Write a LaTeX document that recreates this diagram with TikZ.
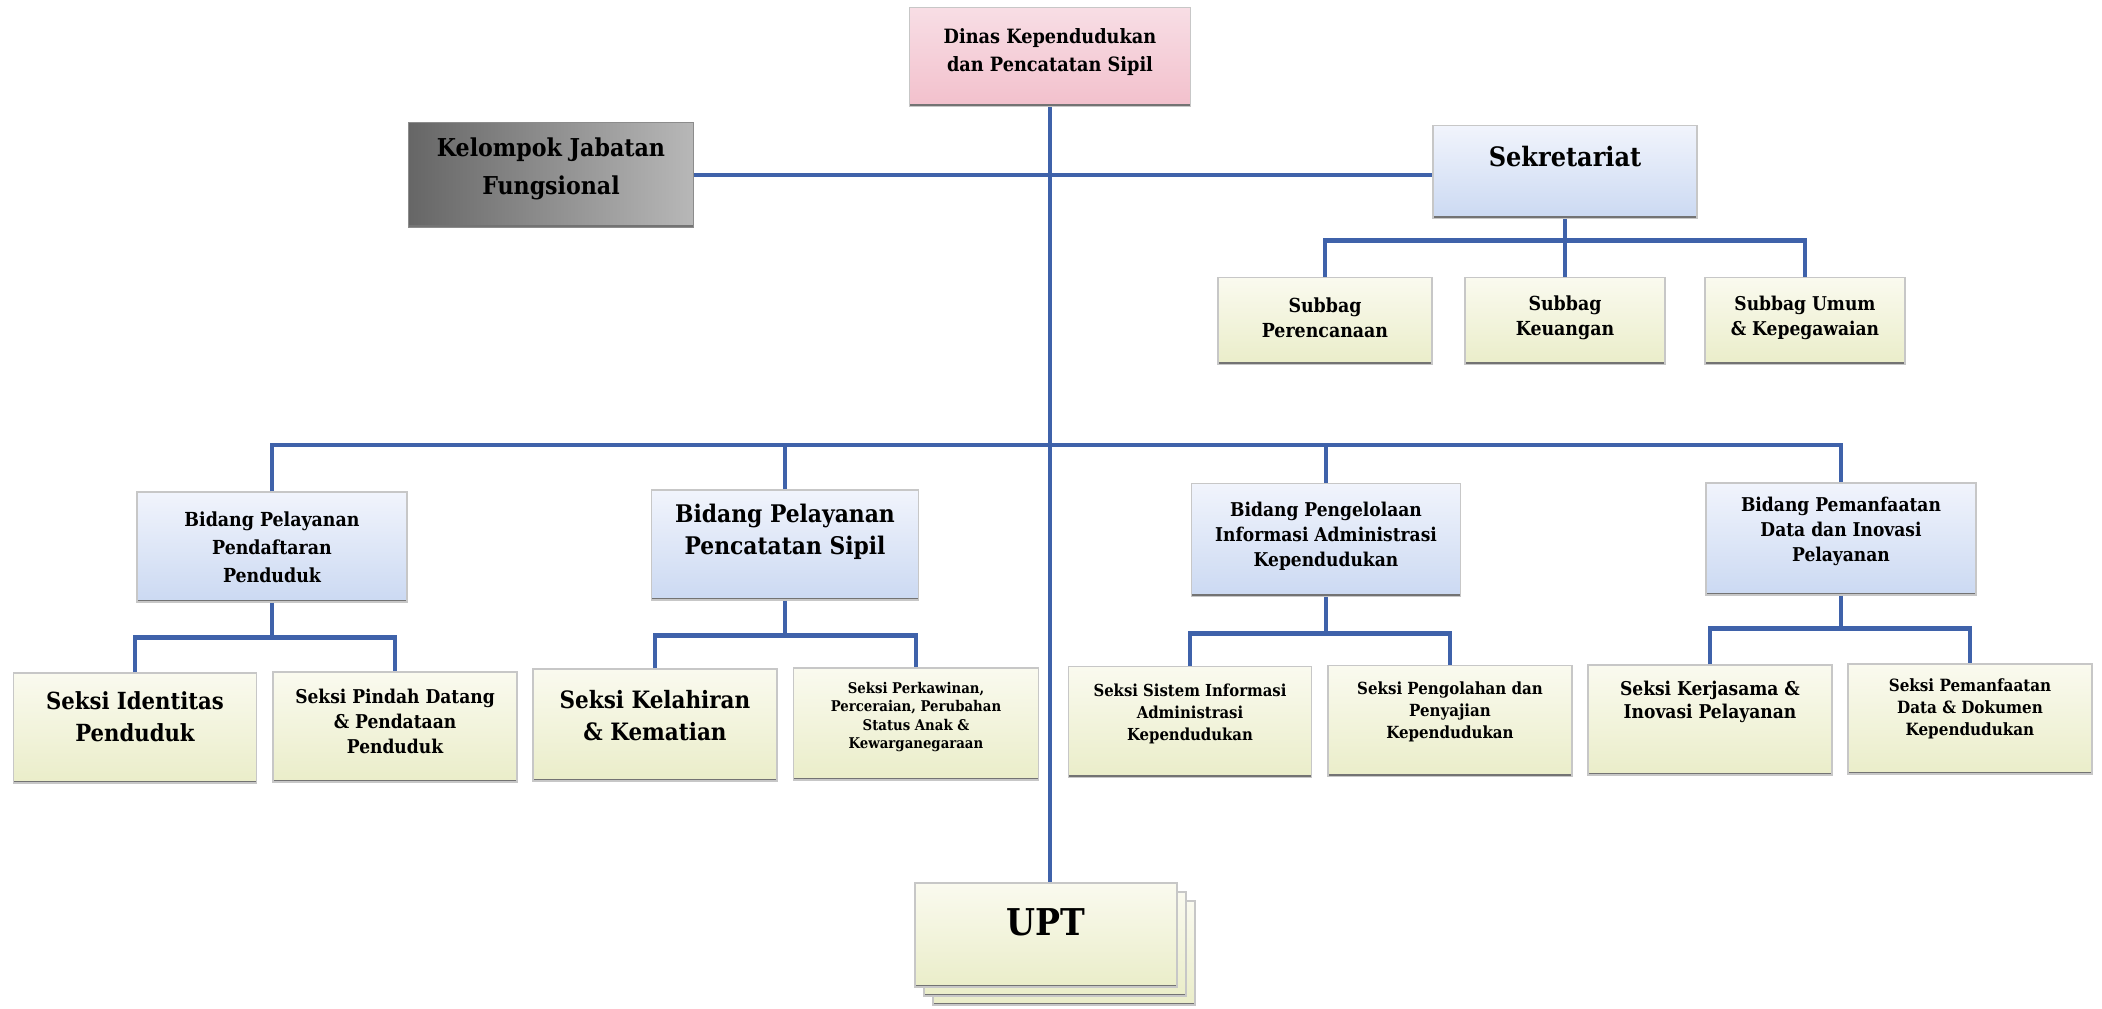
\documentclass[tikz,border=0pt]{standalone}
\usepackage{fontspec}
\setmainfont{DejaVu Serif Condensed}
\definecolor{garis}{HTML}{3F62AA}
\definecolor{merahmuda}{HTML}{F2C0CC}
\definecolor{merahmudamuda}{HTML}{F8DEE5}
\definecolor{biru}{HTML}{CBD9F2}
\definecolor{birumuda}{HTML}{F1F4FC}
\definecolor{hijau}{HTML}{EAEDC9}
\definecolor{hijaumuda}{HTML}{FAFAEF}
\newcommand{\ukuran}[2]{\fontsize{#1}{#2}\selectfont\bfseries}
\begin{document}
\begin{tikzpicture}[x=0.01cm, y=-0.01cm,
    kotak/.style={draw=black!22, line width=0.4pt, align=center, inner sep=1pt,
      path picture={\draw[black!55, line width=1.3pt] (path picture bounding box.south west) -- (path picture bounding box.south east);}},
    kotakpink/.style={kotak, top color=merahmudamuda, bottom color=merahmuda},
    kotakabu/.style={kotak, draw=black!45, left color=black!60, middle color=black!6, right color=black!28},
    kotakbiru/.style={kotak, top color=birumuda, bottom color=biru},
    kotakhijau/.style={kotak, top color=hijaumuda, bottom color=hijau},
    naik/.style={text depth=#1pt},
    garis/.style={draw=garis, line width=1.3pt}]
    \useasboundingbox (0,0) rectangle (2102,1008);

    % kepala dinas
    \node[kotakpink, naik=3.8, minimum width=2.81cm, minimum height=0.99cm, font=\ukuran{5.6}{8}] (dinas) at (1050,57) {Dinas Kependudukan\\dan Pencatatan Sipil};

    % jabatan fungsional dan sekretariat
    \node[kotakabu, naik=4.9, minimum width=2.85cm, minimum height=1.05cm, font=\ukuran{7}{10.8}] (kjf) at (551,175) {Kelompok Jabatan\\Fungsional};
    \node[kotakbiru, naik=9.1, minimum width=2.64cm, minimum height=0.93cm, font=\ukuran{7.6}{10}] (sekr) at (1565,172) {Sekretariat};

    % subbag
    \node[kotakhijau, naik=1.7, minimum width=2.14cm, minimum height=0.87cm, font=\ukuran{5.5}{7.1}] (sub1) at (1325,321) {Subbag\\Perencanaan};
    \node[kotakhijau, naik=3.2, minimum width=2.0cm, minimum height=0.87cm, font=\ukuran{5.5}{7.1}] (sub2) at (1565,321) {Subbag\\Keuangan};
    \node[kotakhijau, naik=3.2, minimum width=2.0cm, minimum height=0.87cm, font=\ukuran{5.4}{7.1}] (sub3) at (1805,321) {Subbag Umum\\\& Kepegawaian};

    % bidang
    \node[kotakbiru, minimum width=2.7cm, minimum height=1.1cm, font=\ukuran{5.5}{8}] (bid1) at (272,547) {Bidang Pelayanan\\Pendaftaran\\Penduduk};
    \node[kotakbiru, naik=8.9, minimum width=2.67cm, minimum height=1.1cm, font=\ukuran{6.9}{9.1}] (bid2) at (785,545) {Bidang Pelayanan\\Pencatatan Sipil};
    \node[kotakbiru, naik=3.4, minimum width=2.69cm, minimum height=1.13cm, font=\ukuran{5.4}{7.1}] (bid3) at (1326,540) {Bidang Pengelolaan\\Informasi Administrasi\\Kependudukan};
    \node[kotakbiru, naik=5.5, minimum width=2.7cm, minimum height=1.12cm, font=\ukuran{5.4}{7.1}] (bid4) at (1841,539) {Bidang Pemanfaatan\\Data dan Inovasi\\Pelayanan};

    % seksi
    \node[kotakhijau, naik=6.8, minimum width=2.43cm, minimum height=1.1cm, font=\ukuran{6.7}{9.1}] (s11) at (135,728) {Seksi Identitas\\Penduduk};
    \node[kotakhijau, naik=3.4, minimum width=2.44cm, minimum height=1.1cm, font=\ukuran{5.4}{7.1}] (s12) at (395,727) {Seksi Pindah Datang\\\& Pendataan\\Penduduk};
    \node[kotakhijau, naik=5.7, minimum width=2.44cm, minimum height=1.12cm, font=\ukuran{6.8}{9.1}] (s21) at (655,725) {Seksi Kelahiran\\\& Kematian};
    \node[kotakhijau, naik=4.9, minimum width=2.45cm, minimum height=1.12cm, font=\ukuran{4.2}{5.2}] (s22) at (916,724) {Seksi Perkawinan,\\Perceraian, Perubahan\\Status Anak \&\\Kewarganegaraan};
    \node[kotakhijau, naik=5.7, minimum width=2.43cm, minimum height=1.11cm, font=\ukuran{4.7}{6.3}] (s31) at (1190,722) {Seksi Sistem Informasi\\Administrasi\\Kependudukan};
    \node[kotakhijau, naik=6.3, minimum width=2.44cm, minimum height=1.11cm, font=\ukuran{4.75}{6.3}] (s32) at (1450,721) {Seksi Pengolahan dan\\Penyajian\\Kependudukan};
    \node[kotakhijau, naik=11.5, minimum width=2.44cm, minimum height=1.1cm, font=\ukuran{5.4}{6.6}] (s41) at (1710,720) {Seksi Kerjasama \&\\Inovasi Pelayanan};
    \node[kotakhijau, naik=6.8, minimum width=2.44cm, minimum height=1.1cm, font=\ukuran{4.8}{6.3}] (s42) at (1970,719) {Seksi Pemanfaatan\\Data \& Dokumen\\Kependudukan};

    % UPT (tumpukan)
    \node[kotakhijau, minimum width=2.62cm, minimum height=1.04cm] (upt3) at (1064,953) {};
    \node[kotakhijau, minimum width=2.62cm, minimum height=1.04cm] (upt2) at (1055,944) {};
    \node[kotakhijau, naik=7.4, minimum width=2.62cm, minimum height=1.04cm, font=\ukuran{10.5}{12}] (upt) at (1046,935) {UPT};

    % garis
    \draw[garis] (dinas.south) -- (dinas.south |- upt.north);
    \draw[garis] (kjf.east) -- (kjf.east -| sekr.west);
    \draw[garis] (sekr.south) -- (sekr.south |- sub2.north);
    \draw[garis] (sub1.north) -- ++(0,-36) -| (sub3.north);
    \coordinate (busatas) at (0,445);
    \draw[garis] (bid1.north) |- (busatas -| bid4.north) -- (bid4.north);
    \draw[garis] (bid2.north) -- (bid2.north |- busatas);
    \draw[garis] (bid3.north) -- (bid3.north |- busatas);
    \draw[garis] (bid1.south) -- ++(0,35) coordinate (t1) (s11.north) |- (t1) -| (s12.north);
    \draw[garis] (bid2.south) -- ++(0,35) coordinate (t2) (s21.north) |- (t2) -| (s22.north);
    \draw[garis] (bid3.south) -- ++(0,36) coordinate (t3) (s31.north) |- (t3) -| (s32.north);
    \draw[garis] (bid4.south) -- ++(0,33) coordinate (t4) (s41.north) |- (t4) -| (s42.north);
\end{tikzpicture}
\end{document}
